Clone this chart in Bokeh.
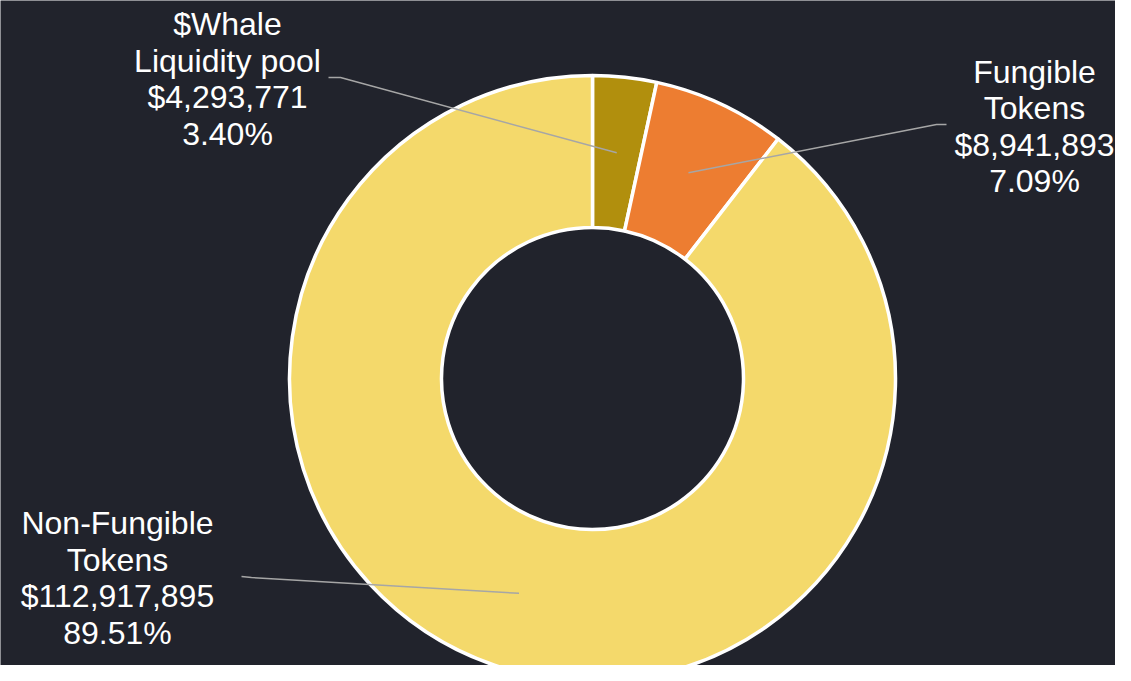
import numpy as np
from bokeh.plotting import figure
from bokeh.models import Range1d, ColumnDataSource
from bokeh.core.properties import value
from bokeh.embed import file_html
from bokeh.resources import INLINE

# ---- data ----
categories = ["$Whale Liquidity pool", "Fungible Tokens", "Non-Fungible Tokens"]
label_lines = [["$Whale", "Liquidity pool"], ["Fungible", "Tokens"], ["Non-Fungible", "Tokens"]]
values = [4293771, 8941893, 112917895]
colors = ["#B18F0D", "#ED7D31", "#F4D96B"]

# ---- layout (reference pixel coordinates, y downward) ----
BG = "#21232c"
W, H = 1115, 665
CX, CY = 592, 378
R_OUT, R_IN = 303, 151
label_centers = [(227, 78.5), (1034, 126), (117, 577.5)]
leader_text_end = [(328, 77), (946, 124), (241, 576)]
leader_elbow = [(340, 77), (936, 124), (251, 577)]
LINE_STEP = 36.5
FONT = "Liberation Sans"
FONT_SIZE = "32px"

vals = np.array(values, dtype=float)
frac = vals / vals.sum()
cum = np.concatenate([[0], np.cumsum(frac)])
start = np.pi / 2 - 2 * np.pi * cum[:-1]
end = np.pi / 2 - 2 * np.pi * cum[1:]
mid = (start + end) / 2

p = figure(width=W, height=H, output_backend="svg", toolbar_location=None,
           x_range=Range1d(0, W), y_range=Range1d(-H, 0),
           min_border=0)
p.axis.visible = False
p.grid.visible = False
p.outline_line_color = None
p.background_fill_color = BG
p.border_fill_color = BG

src = ColumnDataSource(dict(start=start, end=end, color=colors, cat=categories))
p.annular_wedge(x=CX, y=-CY, inner_radius=R_IN, outer_radius=R_OUT,
                start_angle="start", end_angle="end", direction="clock",
                fill_color="color", line_color="white", line_width=3.5, source=src)

# leader lines: from mid-ring of each slice to the label
r_mid = (R_IN + R_OUT) / 2
xs, ys = [], []
for i in range(len(values)):
    px = CX + r_mid * np.cos(mid[i])
    py = -CY + r_mid * np.sin(mid[i])
    xs.append([leader_text_end[i][0], leader_elbow[i][0], px])
    ys.append([-leader_text_end[i][1], -leader_elbow[i][1], py])
p.multi_line(xs=xs, ys=ys, line_color="#A6A6A6", line_width=1.5)

# labels
tx, ty, tt = [], [], []
for i in range(len(values)):
    lines = label_lines[i] + ["${:,}".format(values[i]), "{:.2f}%".format(frac[i] * 100)]
    n = len(lines)
    lx, ly = label_centers[i]
    for j, s in enumerate(lines):
        tx.append(lx)
        ty.append(-(ly + (j - (n - 1) / 2) * LINE_STEP))
        tt.append(s)
p.text(x=tx, y=ty, text=tt, text_align="center", text_baseline="middle",
       text_font=value(FONT), text_font_size=FONT_SIZE, text_color="#FFFFFF")

open("out.html", "w").write(file_html(p, INLINE))
